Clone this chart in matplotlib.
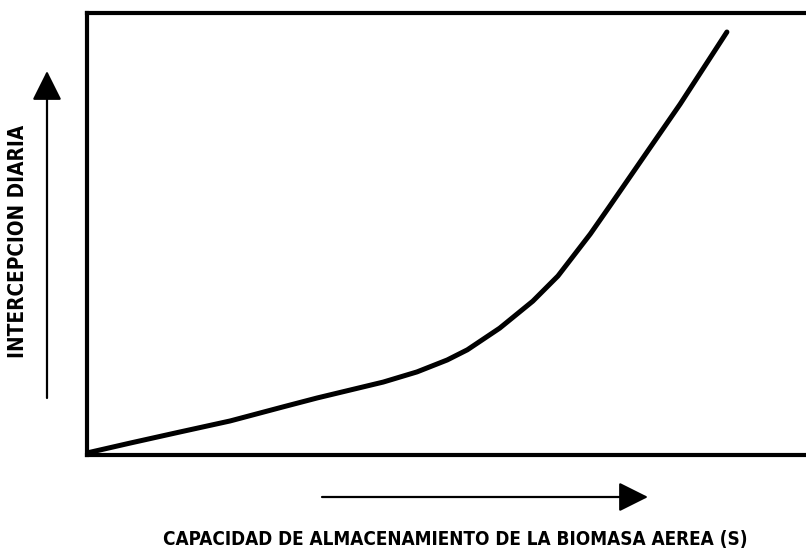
import matplotlib
matplotlib.use("Agg")
import matplotlib.pyplot as plt
from matplotlib.patches import FancyArrowPatch

# curve read in relative units (0-100 on both axes)
biomasa = [0.1, 6.0, 12.9, 19.9, 27.3, 32.0, 36.6, 41.2, 45.9, 50.1,
           52.9, 57.4, 62.0, 65.5, 70.0, 72.7, 75.5, 78.0, 82.5, 89.0]
intercepcion = [0.5, 2.7, 5.2, 7.7, 10.9, 12.9, 14.7, 16.5, 18.8, 21.5,
                23.8, 28.7, 34.8, 40.5, 50.0, 56.3, 62.9, 68.8, 79.4, 95.7]

x_label = "CAPACIDAD DE ALMACENAMIENTO DE LA BIOMASA AEREA (S)"
y_label = "INTERCEPCION DIARIA"

FONT = dict(family=["DejaVu Sans"], weight="bold", stretch="condensed")

fig = plt.figure(figsize=(8.06, 5.55), dpi=100)
ax = fig.add_axes([87 / 806, 100 / 555, 1 - 87 / 806, 442 / 555])
ax.plot(biomasa, intercepcion, color="black", lw=3.6, solid_capstyle="round",
        solid_joinstyle="round")
ax.set_xlim(0, 100)
ax.set_ylim(0, 100)
ax.set_xticks([])
ax.set_yticks([])
ax.spines["right"].set_visible(False)
for side in ("left", "bottom", "top"):
    ax.spines[side].set_linewidth(3)

# direction arrows outside the axes
for start, end in [((47, 157), (47, 484)), ((322, 58), (648, 58))]:
    fig.add_artist(FancyArrowPatch(
        start, end, transform=None, arrowstyle="-|>,head_length=1.3,head_width=0.65",
        mutation_scale=14, lw=1.6, color="black", shrinkA=0, shrinkB=0))

ty = fig.text(18 / 806, 1 - 241 / 555, y_label, rotation=90, ha="center",
              va="center", fontsize=13, **FONT)
tx = fig.text(455 / 806, 1 - 539 / 555, x_label, ha="center", va="center",
              fontsize=14, **FONT)

# size the labels to the span they take under the axes
renderer = fig.canvas.get_renderer()
h = ty.get_window_extent(renderer).height
ty.set_fontsize(13 * 232 / h)
w = tx.get_window_extent(renderer).width
tx.set_fontsize(14 * 590 / w)

fig.savefig("out.png", dpi=100)
